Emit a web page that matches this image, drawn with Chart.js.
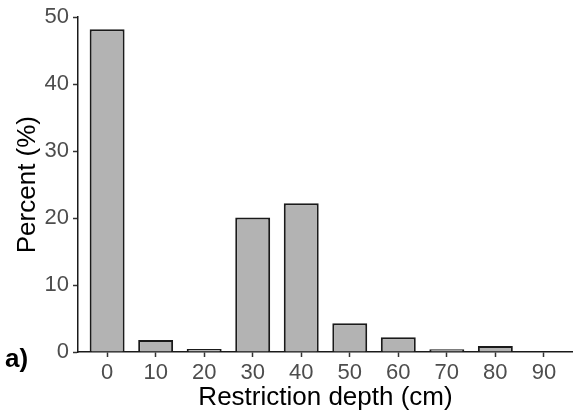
<!DOCTYPE html>
<html>
<head>
<meta charset="utf-8">
<script src="https://cdn.jsdelivr.net/npm/chart.js@4.4.1/dist/chart.umd.min.js"></script>
<style>
  html, body { margin: 0; padding: 0; background: #ffffff; }
  #wrap { width: 573px; height: 413px; position: relative; }
</style>
</head>
<body>
<div id="wrap"><canvas id="c" width="573" height="413"></canvas></div>
<script>
// Share of sites by depth to the restricting layer
const depthLabels = ['0', '10', '20', '30', '40', '50', '60', '70', '80', '90'];
const percentValues = [48.2, 1.8, 0.45, 20.1, 22.2, 4.3, 2.2, 0.4, 0.9, 0.1];
const yTicks = [0, 10, 20, 30, 40, 50];

const points = depthLabels.map((lab, i) => ({ x: i, y: percentValues[i] }));
const FONT = '"Liberation Sans", Arial, sans-serif';

const panelTag = {
  id: 'panelTag',
  afterDraw(chart) {
    const ctx = chart.ctx;
    ctx.save();
    ctx.font = 'bold 26px ' + FONT;
    ctx.fillStyle = '#000000';
    ctx.textBaseline = 'middle';
    ctx.textAlign = 'left';
    ctx.fillText('a)', 5, 360);
    ctx.restore();
  }
};

new Chart(document.getElementById('c'), {
  type: 'bar',
  data: {
    datasets: [{
      data: points,
      backgroundColor: '#b3b3b3',
      borderColor: '#1a1a1a',
      borderWidth: 2,
      barPercentage: 0.72,
      categoryPercentage: 1.0
    }]
  },
  options: {
    responsive: false,
    animation: false,
    devicePixelRatio: 1,
    layout: { padding: { top: 17, right: 0, left: 0, bottom: 0 } },
    plugins: { legend: { display: false }, tooltip: { enabled: false } },
    scales: {
      x: {
        type: 'linear',
        offset: false,
        min: -0.6,
        max: 9.6,
        afterBuildTicks(scale) {
          scale.ticks = depthLabels.map((_, i) => ({ value: i }));
        },
        afterFit(scale) { scale.height = 61; },
        ticks: {
          autoSkip: false,
          maxRotation: 0,
          padding: 3,
          color: '#4d4d4d',
          font: { family: FONT, size: 22 },
          callback: (v) => depthLabels[v]
        },
        grid: { display: true, offset: false, drawOnChartArea: false, tickLength: 5, tickColor: '#333333', tickWidth: 1.5 },
        border: { display: true, color: '#1a1a1a', width: 1.5 },
        title: {
          display: true,
          text: 'Restriction depth (cm)',
          color: '#000000',
          font: { family: FONT, size: 26 },
          padding: { top: 0, bottom: 0 }
        }
      },
      y: {
        min: 0,
        max: 50,
        afterBuildTicks(scale) {
          scale.ticks = yTicks.map(v => ({ value: v }));
        },
        afterFit(scale) { scale.width = 78; },
        ticks: {
          padding: 4,
          color: '#4d4d4d',
          font: { family: FONT, size: 22 }
        },
        grid: { display: true, drawOnChartArea: false, tickLength: 5, tickColor: '#333333', tickWidth: 1.5 },
        border: { display: true, color: '#1a1a1a', width: 1.5 },
        title: {
          display: true,
          text: 'Percent (%)',
          color: '#000000',
          font: { family: FONT, size: 26 },
          padding: { top: 12, bottom: 0 }
        }
      }
    }
  },
  plugins: [panelTag]
});
</script>
</body>
</html>
